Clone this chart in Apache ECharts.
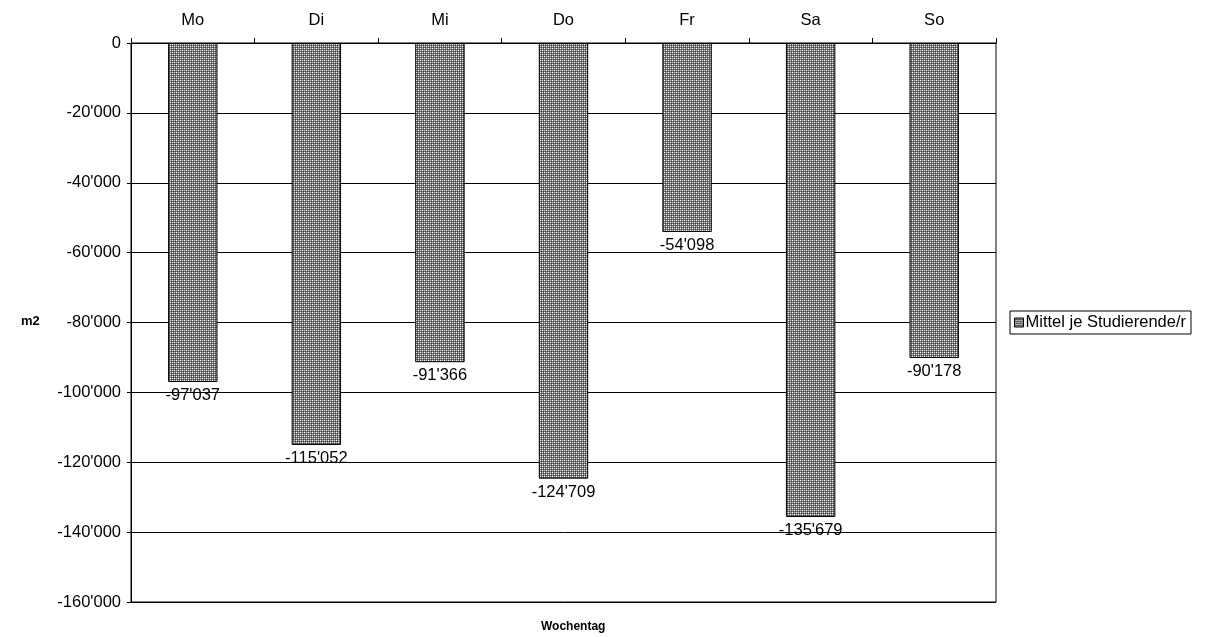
<!DOCTYPE html>
<html>
<head>
<meta charset="utf-8">
<script src="https://cdn.jsdelivr.net/npm/echarts@6/dist/echarts.min.js"></script>
<style>
  html, body { margin: 0; padding: 0; background: #fff; }
  #chart { width: 1223px; height: 637px; }
</style>
</head>
<body>
<div id="chart"></div>
<script>
// Weekdays and mean area per student (m2)
const days = ['Mo', 'Di', 'Mi', 'Do', 'Fr', 'Sa', 'So'];
const meanPerStudent = [-97037, -115052, -91366, -124709, -54098, -135679, -90178];
const seriesName = 'Mittel je Studierende/r';
const xTitle = 'Wochentag';
const yTitle = 'm2';
const yMin = -160000;
const yMax = 0;
const yStep = 20000;

// Swiss-style thousands separator
function fmt(v) {
  const s = Math.abs(Math.round(v)).toString().replace(/\B(?=(\d{3})+(?!\d))/g, "'");
  return (v < 0 ? '-' : '') + s;
}

// Dotted grey fill tile for the bars
function makePattern() {
  const c = document.createElement('canvas');
  c.width = 4; c.height = 4;
  const g = c.getContext('2d');
  g.fillStyle = '#777777';
  g.fillRect(0, 0, 4, 4);
  g.fillStyle = '#ffffff';
  g.fillRect(0, 0, 1, 1);
  g.fillRect(2, 2, 1, 1);
  g.fillStyle = '#c8c8c8';
  g.fillRect(2, 0, 1, 1);
  g.fillRect(0, 2, 1, 1);
  g.fillStyle = '#404040';
  g.fillRect(1, 1, 1, 1);
  g.fillRect(3, 3, 1, 1);
  g.fillRect(1, 3, 1, 1);
  g.fillRect(3, 1, 1, 1);
  return c;
}

const FONT = 'Liberation Sans, Arial, sans-serif';
const FS = 16.5;
const pattern = { image: makePattern(), repeat: 'repeat' };

const chart = echarts.init(document.getElementById('chart'), null, { renderer: 'canvas' });
chart.setOption({
  animation: false,
  backgroundColor: '#ffffff',
  textStyle: { fontFamily: FONT },
  grid: {
    left: 131, right: 227, top: 43, bottom: 35,
    containLabel: false, outerBoundsMode: 'none',
    show: true, borderColor: '#000', borderWidth: 1, backgroundColor: 'transparent'
  },
  legend: {
    data: [{ name: seriesName, icon: 'rect' }],
    orient: 'vertical',
    left: 1010, top: 311,
    itemWidth: 9, itemHeight: 9, itemGap: 0,
    padding: [3, 5, 3, 4],
    borderColor: '#000', borderWidth: 1,
    textStyle: { fontFamily: FONT, fontSize: FS, color: '#000', padding: [0, 0, 0, -3] },
    itemStyle: { borderColor: '#000', borderWidth: 1 }
  },
  graphic: [
    {
      type: 'text', left: 541, top: 621,
      style: { text: xTitle, font: 'bold 12px ' + FONT, fill: '#000' }
    },
    {
      type: 'text', left: 21, top: 315,
      style: { text: yTitle, font: 'bold 13px ' + FONT, fill: '#000' }
    }
  ],
  xAxis: {
    type: 'category',
    data: days,
    position: 'top',
    axisLine: { show: true, onZero: true, lineStyle: { color: '#000', width: 1 } },
    axisTick: { show: true, alignWithLabel: false, length: 5, lineStyle: { color: '#000' } },
    axisLabel: { color: '#000', fontSize: FS, margin: 14 },
    splitLine: { show: false }
  },
  yAxis: {
    type: 'value',
    min: yMin, max: yMax, interval: yStep,
    axisLine: { show: true, lineStyle: { color: '#000', width: 1 } },
    axisTick: { show: true, length: 4, lineStyle: { color: '#000' } },
    axisLabel: { color: '#000', fontSize: FS, margin: 10, formatter: fmt },
    splitLine: { show: true, lineStyle: { color: '#000', width: 1 } }
  },
  series: [{
    name: seriesName,
    type: 'bar',
    data: meanPerStudent,
    barWidth: '40%',
    itemStyle: { color: pattern, borderColor: '#000', borderWidth: 1 },
    label: {
      show: true,
      position: 'bottom',
      distance: 5,
      color: '#000',
      fontSize: FS,
      fontFamily: FONT,
      formatter: p => fmt(p.value)
    }
  }]
});
</script>
</body>
</html>
